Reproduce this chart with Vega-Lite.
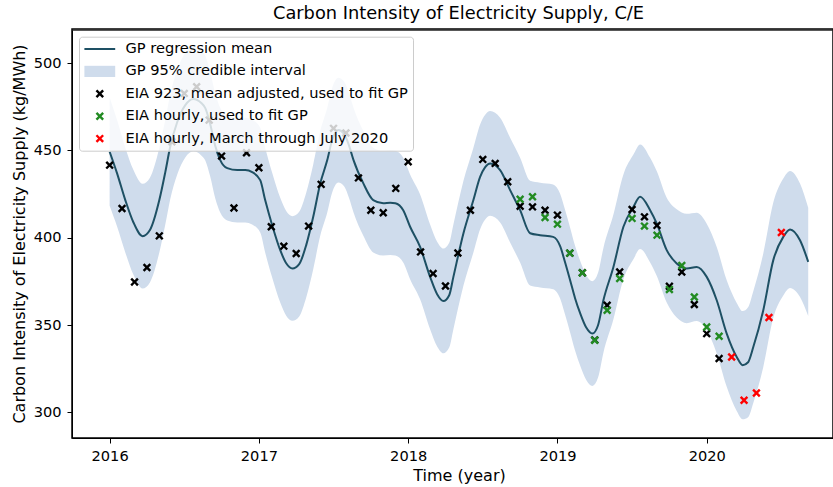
{
  "$schema": "https://vega.github.io/schema/vega-lite/v6.json",
  "width": 761,
  "height": 409,
  "autosize": {"type": "none"},
  "padding": {"left": 72, "top": 29, "right": 0, "bottom": 49},
  "title": {"text": "Carbon Intensity of Electricity Supply, C/E", "fontSize": 17.8, "fontWeight": "normal", "font": "DejaVu Sans", "color": "#000000", "offset": 6, "dx": 6},
  "datasets": {
    "gp": [
      {"t": 2016.000, "mean": 449.3, "lo": 418.3, "hi": 480.3},
      {"t": 2016.050, "mean": 436.9, "lo": 406.4, "hi": 467.4},
      {"t": 2016.105, "mean": 421.6, "lo": 391.6, "hi": 451.6},
      {"t": 2016.159, "mean": 408.9, "lo": 378.9, "hi": 438.9},
      {"t": 2016.221, "mean": 400.9, "lo": 370.9, "hi": 430.9},
      {"t": 2016.270, "mean": 404.4, "lo": 374.4, "hi": 434.4},
      {"t": 2016.333, "mean": 421.6, "lo": 391.6, "hi": 451.6},
      {"t": 2016.373, "mean": 437.6, "lo": 407.6, "hi": 467.6},
      {"t": 2016.406, "mean": 452.1, "lo": 422.1, "hi": 482.1},
      {"t": 2016.453, "mean": 466.3, "lo": 436.3, "hi": 496.3},
      {"t": 2016.507, "mean": 476.0, "lo": 446.0, "hi": 506.0},
      {"t": 2016.560, "mean": 479.5, "lo": 449.5, "hi": 509.5},
      {"t": 2016.614, "mean": 477.2, "lo": 447.2, "hi": 507.2},
      {"t": 2016.641, "mean": 474.3, "lo": 444.3, "hi": 504.3},
      {"t": 2016.674, "mean": 465.1, "lo": 435.1, "hi": 495.1},
      {"t": 2016.708, "mean": 452.5, "lo": 422.5, "hi": 482.5},
      {"t": 2016.741, "mean": 444.5, "lo": 414.5, "hi": 474.5},
      {"t": 2016.788, "mean": 439.9, "lo": 409.9, "hi": 469.9},
      {"t": 2016.855, "mean": 438.8, "lo": 408.8, "hi": 468.8},
      {"t": 2016.909, "mean": 438.8, "lo": 408.8, "hi": 468.8},
      {"t": 2016.955, "mean": 437.6, "lo": 407.6, "hi": 467.6},
      {"t": 2017.009, "mean": 433.0, "lo": 403.0, "hi": 463.0},
      {"t": 2017.042, "mean": 421.6, "lo": 391.6, "hi": 451.6},
      {"t": 2017.089, "mean": 407.2, "lo": 377.2, "hi": 437.2},
      {"t": 2017.143, "mean": 392.9, "lo": 362.9, "hi": 422.9},
      {"t": 2017.183, "mean": 385.4, "lo": 355.4, "hi": 415.4},
      {"t": 2017.225, "mean": 382.4, "lo": 352.4, "hi": 412.4},
      {"t": 2017.270, "mean": 384.9, "lo": 354.9, "hi": 414.9},
      {"t": 2017.317, "mean": 395.8, "lo": 365.8, "hi": 425.8},
      {"t": 2017.364, "mean": 412.0, "lo": 382.0, "hi": 442.0},
      {"t": 2017.411, "mean": 431.1, "lo": 401.1, "hi": 461.1},
      {"t": 2017.458, "mean": 444.5, "lo": 414.5, "hi": 474.5},
      {"t": 2017.491, "mean": 456.0, "lo": 426.0, "hi": 486.0},
      {"t": 2017.532, "mean": 461.7, "lo": 431.7, "hi": 491.7},
      {"t": 2017.572, "mean": 459.4, "lo": 429.4, "hi": 489.4},
      {"t": 2017.605, "mean": 452.5, "lo": 422.5, "hi": 482.5},
      {"t": 2017.634, "mean": 444.5, "lo": 414.5, "hi": 474.5},
      {"t": 2017.699, "mean": 431.3, "lo": 401.3, "hi": 461.3},
      {"t": 2017.766, "mean": 421.6, "lo": 391.6, "hi": 451.6},
      {"t": 2017.833, "mean": 419.8, "lo": 389.8, "hi": 449.8},
      {"t": 2017.880, "mean": 420.1, "lo": 390.1, "hi": 450.1},
      {"t": 2017.914, "mean": 419.8, "lo": 389.8, "hi": 449.8},
      {"t": 2017.967, "mean": 415.8, "lo": 385.8, "hi": 445.8},
      {"t": 2018.013, "mean": 406.3, "lo": 376.3, "hi": 436.3},
      {"t": 2018.080, "mean": 394.8, "lo": 364.8, "hi": 424.8},
      {"t": 2018.147, "mean": 377.6, "lo": 347.6, "hi": 407.6},
      {"t": 2018.194, "mean": 367.7, "lo": 337.7, "hi": 397.7},
      {"t": 2018.236, "mean": 363.8, "lo": 333.8, "hi": 393.8},
      {"t": 2018.275, "mean": 367.1, "lo": 337.1, "hi": 397.1},
      {"t": 2018.303, "mean": 377.6, "lo": 347.6, "hi": 407.6},
      {"t": 2018.370, "mean": 402.5, "lo": 372.5, "hi": 432.5},
      {"t": 2018.437, "mean": 421.6, "lo": 391.6, "hi": 451.6},
      {"t": 2018.482, "mean": 434.9, "lo": 404.9, "hi": 464.9},
      {"t": 2018.516, "mean": 440.5, "lo": 410.5, "hi": 470.5},
      {"t": 2018.549, "mean": 442.6, "lo": 412.6, "hi": 472.6},
      {"t": 2018.616, "mean": 438.8, "lo": 408.8, "hi": 468.8},
      {"t": 2018.683, "mean": 427.3, "lo": 397.3, "hi": 457.3},
      {"t": 2018.750, "mean": 415.8, "lo": 385.8, "hi": 445.8},
      {"t": 2018.817, "mean": 402.6, "lo": 372.6, "hi": 432.6},
      {"t": 2018.884, "mean": 401.5, "lo": 371.5, "hi": 431.5},
      {"t": 2018.971, "mean": 400.5, "lo": 370.5, "hi": 430.5},
      {"t": 2019.018, "mean": 395.2, "lo": 365.2, "hi": 425.2},
      {"t": 2019.051, "mean": 386.0, "lo": 356.0, "hi": 416.0},
      {"t": 2019.085, "mean": 375.7, "lo": 345.7, "hi": 405.7},
      {"t": 2019.118, "mean": 365.4, "lo": 335.4, "hi": 395.4},
      {"t": 2019.152, "mean": 356.8, "lo": 326.8, "hi": 386.8},
      {"t": 2019.192, "mean": 348.7, "lo": 318.7, "hi": 378.7},
      {"t": 2019.234, "mean": 345.1, "lo": 315.1, "hi": 375.1},
      {"t": 2019.272, "mean": 349.9, "lo": 319.9, "hi": 379.9},
      {"t": 2019.308, "mean": 364.2, "lo": 334.2, "hi": 394.2},
      {"t": 2019.375, "mean": 383.3, "lo": 353.3, "hi": 413.3},
      {"t": 2019.442, "mean": 406.3, "lo": 376.3, "hi": 436.3},
      {"t": 2019.509, "mean": 417.7, "lo": 387.7, "hi": 447.7},
      {"t": 2019.554, "mean": 423.5, "lo": 393.5, "hi": 453.5},
      {"t": 2019.621, "mean": 415.8, "lo": 385.8, "hi": 445.8},
      {"t": 2019.665, "mean": 408.2, "lo": 378.2, "hi": 438.2},
      {"t": 2019.732, "mean": 392.9, "lo": 362.9, "hi": 422.9},
      {"t": 2019.799, "mean": 385.3, "lo": 354.3, "hi": 416.3},
      {"t": 2019.866, "mean": 382.4, "lo": 351.1, "hi": 413.7},
      {"t": 2019.933, "mean": 383.3, "lo": 352.3, "hi": 414.3},
      {"t": 2020.000, "mean": 377.6, "lo": 347.1, "hi": 408.1},
      {"t": 2020.067, "mean": 364.2, "lo": 333.7, "hi": 394.7},
      {"t": 2020.134, "mean": 345.1, "lo": 314.6, "hi": 375.6},
      {"t": 2020.201, "mean": 331.7, "lo": 300.7, "hi": 362.7},
      {"t": 2020.241, "mean": 327.0, "lo": 296.0, "hi": 358.0},
      {"t": 2020.277, "mean": 328.7, "lo": 297.2, "hi": 360.2},
      {"t": 2020.312, "mean": 337.4, "lo": 305.4, "hi": 369.4},
      {"t": 2020.379, "mean": 358.5, "lo": 326.0, "hi": 391.0},
      {"t": 2020.446, "mean": 387.2, "lo": 354.2, "hi": 420.2},
      {"t": 2020.513, "mean": 400.5, "lo": 367.0, "hi": 434.0},
      {"t": 2020.558, "mean": 404.8, "lo": 371.3, "hi": 438.3},
      {"t": 2020.625, "mean": 398.6, "lo": 366.1, "hi": 431.1},
      {"t": 2020.680, "mean": 386.2, "lo": 355.2, "hi": 417.2}
    ],
    "obs": [
      {"t": 2016.000, "v": 441.6, "series": "EIA 923, mean adjusted, used to fit GP"},
      {"t": 2016.083, "v": 416.8, "series": "EIA 923, mean adjusted, used to fit GP"},
      {"t": 2016.167, "v": 374.7, "series": "EIA 923, mean adjusted, used to fit GP"},
      {"t": 2016.250, "v": 383.0, "series": "EIA 923, mean adjusted, used to fit GP"},
      {"t": 2016.333, "v": 401.1, "series": "EIA 923, mean adjusted, used to fit GP"},
      {"t": 2016.417, "v": 455.0, "series": "EIA 923, mean adjusted, used to fit GP"},
      {"t": 2016.500, "v": 482.7, "series": "EIA 923, mean adjusted, used to fit GP"},
      {"t": 2016.583, "v": 486.5, "series": "EIA 923, mean adjusted, used to fit GP"},
      {"t": 2016.667, "v": 467.4, "series": "EIA 923, mean adjusted, used to fit GP"},
      {"t": 2016.750, "v": 446.8, "series": "EIA 923, mean adjusted, used to fit GP"},
      {"t": 2016.833, "v": 417.1, "series": "EIA 923, mean adjusted, used to fit GP"},
      {"t": 2016.917, "v": 448.7, "series": "EIA 923, mean adjusted, used to fit GP"},
      {"t": 2017.000, "v": 440.1, "series": "EIA 923, mean adjusted, used to fit GP"},
      {"t": 2017.083, "v": 406.3, "series": "EIA 923, mean adjusted, used to fit GP"},
      {"t": 2017.167, "v": 395.2, "series": "EIA 923, mean adjusted, used to fit GP"},
      {"t": 2017.250, "v": 391.0, "series": "EIA 923, mean adjusted, used to fit GP"},
      {"t": 2017.333, "v": 406.7, "series": "EIA 923, mean adjusted, used to fit GP"},
      {"t": 2017.417, "v": 430.6, "series": "EIA 923, mean adjusted, used to fit GP"},
      {"t": 2017.500, "v": 462.7, "series": "EIA 923, mean adjusted, used to fit GP"},
      {"t": 2017.583, "v": 460.0, "series": "EIA 923, mean adjusted, used to fit GP"},
      {"t": 2017.667, "v": 434.3, "series": "EIA 923, mean adjusted, used to fit GP"},
      {"t": 2017.750, "v": 415.8, "series": "EIA 923, mean adjusted, used to fit GP"},
      {"t": 2017.833, "v": 414.3, "series": "EIA 923, mean adjusted, used to fit GP"},
      {"t": 2017.917, "v": 428.3, "series": "EIA 923, mean adjusted, used to fit GP"},
      {"t": 2018.000, "v": 443.5, "series": "EIA 923, mean adjusted, used to fit GP"},
      {"t": 2018.083, "v": 391.9, "series": "EIA 923, mean adjusted, used to fit GP"},
      {"t": 2018.167, "v": 379.5, "series": "EIA 923, mean adjusted, used to fit GP"},
      {"t": 2018.250, "v": 372.4, "series": "EIA 923, mean adjusted, used to fit GP"},
      {"t": 2018.333, "v": 391.3, "series": "EIA 923, mean adjusted, used to fit GP"},
      {"t": 2018.417, "v": 415.8, "series": "EIA 923, mean adjusted, used to fit GP"},
      {"t": 2018.500, "v": 444.9, "series": "EIA 923, mean adjusted, used to fit GP"},
      {"t": 2018.583, "v": 442.6, "series": "EIA 923, mean adjusted, used to fit GP"},
      {"t": 2018.667, "v": 432.1, "series": "EIA 923, mean adjusted, used to fit GP"},
      {"t": 2018.750, "v": 418.1, "series": "EIA 923, mean adjusted, used to fit GP"},
      {"t": 2018.833, "v": 417.7, "series": "EIA 923, mean adjusted, used to fit GP"},
      {"t": 2018.917, "v": 415.8, "series": "EIA 923, mean adjusted, used to fit GP"},
      {"t": 2019.000, "v": 413.0, "series": "EIA 923, mean adjusted, used to fit GP"},
      {"t": 2019.083, "v": 391.2, "series": "EIA 923, mean adjusted, used to fit GP"},
      {"t": 2019.167, "v": 380.0, "series": "EIA 923, mean adjusted, used to fit GP"},
      {"t": 2019.250, "v": 341.5, "series": "EIA 923, mean adjusted, used to fit GP"},
      {"t": 2019.333, "v": 361.4, "series": "EIA 923, mean adjusted, used to fit GP"},
      {"t": 2019.417, "v": 380.4, "series": "EIA 923, mean adjusted, used to fit GP"},
      {"t": 2019.500, "v": 416.2, "series": "EIA 923, mean adjusted, used to fit GP"},
      {"t": 2019.583, "v": 412.0, "series": "EIA 923, mean adjusted, used to fit GP"},
      {"t": 2019.667, "v": 407.1, "series": "EIA 923, mean adjusted, used to fit GP"},
      {"t": 2019.750, "v": 372.2, "series": "EIA 923, mean adjusted, used to fit GP"},
      {"t": 2019.833, "v": 380.4, "series": "EIA 923, mean adjusted, used to fit GP"},
      {"t": 2019.917, "v": 361.8, "series": "EIA 923, mean adjusted, used to fit GP"},
      {"t": 2020.000, "v": 345.1, "series": "EIA 923, mean adjusted, used to fit GP"},
      {"t": 2020.083, "v": 330.8, "series": "EIA 923, mean adjusted, used to fit GP"},
      {"t": 2018.750, "v": 422.1, "series": "EIA hourly, used to fit GP"},
      {"t": 2018.833, "v": 423.5, "series": "EIA hourly, used to fit GP"},
      {"t": 2018.917, "v": 411.6, "series": "EIA hourly, used to fit GP"},
      {"t": 2019.000, "v": 407.8, "series": "EIA hourly, used to fit GP"},
      {"t": 2019.083, "v": 391.2, "series": "EIA hourly, used to fit GP"},
      {"t": 2019.167, "v": 379.9, "series": "EIA hourly, used to fit GP"},
      {"t": 2019.250, "v": 341.3, "series": "EIA hourly, used to fit GP"},
      {"t": 2019.333, "v": 358.5, "series": "EIA hourly, used to fit GP"},
      {"t": 2019.417, "v": 376.7, "series": "EIA hourly, used to fit GP"},
      {"t": 2019.500, "v": 411.1, "series": "EIA hourly, used to fit GP"},
      {"t": 2019.583, "v": 406.7, "series": "EIA hourly, used to fit GP"},
      {"t": 2019.667, "v": 401.5, "series": "EIA hourly, used to fit GP"},
      {"t": 2019.750, "v": 370.4, "series": "EIA hourly, used to fit GP"},
      {"t": 2019.833, "v": 384.1, "series": "EIA hourly, used to fit GP"},
      {"t": 2019.917, "v": 366.1, "series": "EIA hourly, used to fit GP"},
      {"t": 2020.000, "v": 348.9, "series": "EIA hourly, used to fit GP"},
      {"t": 2020.083, "v": 343.6, "series": "EIA hourly, used to fit GP"},
      {"t": 2020.167, "v": 331.7, "series": "EIA hourly, March through July 2020"},
      {"t": 2020.250, "v": 306.9, "series": "EIA hourly, March through July 2020"},
      {"t": 2020.333, "v": 311.1, "series": "EIA hourly, March through July 2020"},
      {"t": 2020.417, "v": 354.3, "series": "EIA hourly, March through July 2020"},
      {"t": 2020.500, "v": 403.0, "series": "EIA hourly, March through July 2020"}
    ]
  },
  "layer": [
    {
      "data": {"name": "gp"},
      "mark": {"type": "area", "opacity": 1, "interpolate": "monotone"},
      "encoding": {
        "x": {
          "field": "t",
          "type": "quantitative",
          "title": "Time (year)",
          "scale": {"domain": [2015.748, 2020.846], "nice": false, "zero": false},
          "axis": {"values": [2016, 2017, 2018, 2019, 2020], "format": "d", "labelPadding": 5, "titlePadding": 5, "titleX": 387, "labelFlush": false}
        },
        "y": {
          "field": "lo",
          "type": "quantitative",
          "title": "Carbon Intensity of Electricity Supply (kg/MWh)",
          "scale": {"domain": [285.3, 519.6], "nice": false, "zero": false},
          "axis": {"values": [300, 350, 400, 450, 500], "labelPadding": 6, "titlePadding": 6}
        },
        "y2": {"field": "hi"},
        "color": {
          "datum": "GP 95% credible interval",
          "type": "nominal",
          "title": null,
          "scale": {
            "domain": ["GP regression mean", "GP 95% credible interval", "EIA 923, mean adjusted, used to fit GP", "EIA hourly, used to fit GP", "EIA hourly, March through July 2020"],
            "range": ["#1e5064", "#cfdcec", "#000000", "#228b22", "#ff0000"]
          },
          "legend": {
            "title": null,
            "orient": "none",
            "legendX": 7,
            "legendY": 7.7,
            "fillColor": "rgba(255,255,255,0.8)",
            "strokeColor": "#cccccc",
            "cornerRadius": 3,
            "padding": 5,
            "labelFontSize": 14.6,
            "labelFont": "DejaVu Sans",
            "labelColor": "#000000",
            "labelLimit": 400,
            "symbolSize": 196,
            "symbolOffset": 8.5,
            "labelOffset": 18.4,
            "rowPadding": 7.4,
            "encode": {
              "symbols": {
                "update": {
                  "shape": {"signal": "datum.value === 'GP regression mean' ? 'M-2.2,0H2.2' : datum.value === 'GP 95% credible interval' ? 'M-2.2,-0.8H2.2V0.8H-2.2Z' : 'M-0.6,-0.36L-0.36,-0.6L0,-0.24L0.36,-0.6L0.6,-0.36L0.24,0L0.6,0.36L0.36,0.6L0,0.24L-0.36,0.6L-0.6,0.36L-0.24,0Z'"},
                  "fill": {"signal": "datum.value === 'GP regression mean' ? 'transparent' : datum.value === 'GP 95% credible interval' ? '#cfdcec' : datum.value === 'EIA hourly, used to fit GP' ? '#228b22' : datum.value === 'EIA hourly, March through July 2020' ? '#ff0000' : '#000000'"},
                  "stroke": {"signal": "datum.value === 'GP regression mean' ? '#1e5064' : 'transparent'"},
                  "strokeWidth": {"signal": "datum.value === 'GP regression mean' ? 2 : 0"},
                  "opacity": {"value": 1}
                }
              }
            }
          }
        }
      }
    },
    {
      "data": {"name": "gp"},
      "mark": {"type": "line", "strokeWidth": 2, "interpolate": "monotone"},
      "encoding": {
        "x": {"field": "t", "type": "quantitative", "title": "Time (year)"},
        "y": {"field": "mean", "type": "quantitative", "title": "Carbon Intensity of Electricity Supply (kg/MWh)"},
        "color": {
          "datum": "GP regression mean",
          "type": "nominal",
          "title": null,
          "legend": {
            "title": null,
            "orient": "none",
            "legendX": 7,
            "legendY": 7.7,
            "fillColor": "rgba(255,255,255,0.8)",
            "strokeColor": "#cccccc",
            "cornerRadius": 3,
            "padding": 5,
            "labelFontSize": 14.6,
            "labelFont": "DejaVu Sans",
            "labelColor": "#000000",
            "labelLimit": 400,
            "symbolSize": 196,
            "symbolOffset": 8.5,
            "labelOffset": 18.4,
            "rowPadding": 7.4,
            "encode": {
              "symbols": {
                "update": {
                  "shape": {"signal": "datum.value === 'GP regression mean' ? 'M-2.2,0H2.2' : datum.value === 'GP 95% credible interval' ? 'M-2.2,-0.8H2.2V0.8H-2.2Z' : 'M-0.6,-0.36L-0.36,-0.6L0,-0.24L0.36,-0.6L0.6,-0.36L0.24,0L0.6,0.36L0.36,0.6L0,0.24L-0.36,0.6L-0.6,0.36L-0.24,0Z'"},
                  "fill": {"signal": "datum.value === 'GP regression mean' ? 'transparent' : datum.value === 'GP 95% credible interval' ? '#cfdcec' : datum.value === 'EIA hourly, used to fit GP' ? '#228b22' : datum.value === 'EIA hourly, March through July 2020' ? '#ff0000' : '#000000'"},
                  "stroke": {"signal": "datum.value === 'GP regression mean' ? '#1e5064' : 'transparent'"},
                  "strokeWidth": {"signal": "datum.value === 'GP regression mean' ? 2 : 0"},
                  "opacity": {"value": 1}
                }
              }
            }
          }
        }
      }
    },
    {
      "data": {"name": "obs"},
      "mark": {"type": "point", "shape": "M-0.6,-0.36L-0.36,-0.6L0,-0.24L0.36,-0.6L0.6,-0.36L0.24,0L0.6,0.36L0.36,0.6L0,0.24L-0.36,0.6L-0.6,0.36L-0.24,0Z", "filled": true, "size": 196, "opacity": 1, "strokeWidth": 0},
      "encoding": {
        "x": {"field": "t", "type": "quantitative", "title": "Time (year)"},
        "y": {"field": "v", "type": "quantitative", "title": "Carbon Intensity of Electricity Supply (kg/MWh)"},
        "color": {
          "field": "series",
          "type": "nominal",
          "title": null,
          "legend": {
            "title": null,
            "orient": "none",
            "legendX": 7,
            "legendY": 7.7,
            "fillColor": "rgba(255,255,255,0.8)",
            "strokeColor": "#cccccc",
            "cornerRadius": 3,
            "padding": 5,
            "labelFontSize": 14.6,
            "labelFont": "DejaVu Sans",
            "labelColor": "#000000",
            "labelLimit": 400,
            "symbolSize": 196,
            "symbolOffset": 8.5,
            "labelOffset": 18.4,
            "rowPadding": 7.4,
            "encode": {
              "symbols": {
                "update": {
                  "shape": {"signal": "datum.value === 'GP regression mean' ? 'M-2.2,0H2.2' : datum.value === 'GP 95% credible interval' ? 'M-2.2,-0.8H2.2V0.8H-2.2Z' : 'M-0.6,-0.36L-0.36,-0.6L0,-0.24L0.36,-0.6L0.6,-0.36L0.24,0L0.6,0.36L0.36,0.6L0,0.24L-0.36,0.6L-0.6,0.36L-0.24,0Z'"},
                  "fill": {"signal": "datum.value === 'GP regression mean' ? 'transparent' : datum.value === 'GP 95% credible interval' ? '#cfdcec' : datum.value === 'EIA hourly, used to fit GP' ? '#228b22' : datum.value === 'EIA hourly, March through July 2020' ? '#ff0000' : '#000000'"},
                  "stroke": {"signal": "datum.value === 'GP regression mean' ? '#1e5064' : 'transparent'"},
                  "strokeWidth": {"signal": "datum.value === 'GP regression mean' ? 2 : 0"},
                  "opacity": {"value": 1}
                }
              }
            }
          }
        }
      }
    },
    {
      "data": {"name": "gp"},
      "transform": [{"aggregate": [{"op": "count", "as": "n"}]}],
      "mark": {"type": "rule", "color": "#222222", "strokeWidth": 1.2},
      "encoding": {
        "y": {"datum": 519.0, "type": "quantitative"}
      }
    }
  ],
  "config": {
    "font": "DejaVu Sans",
    "view": {"stroke": "#000000", "strokeWidth": 1.5},
    "axis": {
      "grid": false,
      "domainColor": "#000000",
      "domainWidth": 1,
      "tickColor": "#000000",
      "tickWidth": 1,
      "tickSize": 5,
      "labelColor": "#000000",
      "labelFont": "DejaVu Sans",
      "labelFontSize": 14.6,
      "titleColor": "#000000",
      "titleFont": "DejaVu Sans",
      "titleFontSize": 16,
      "titleFontWeight": "normal"
    }
  }
}
